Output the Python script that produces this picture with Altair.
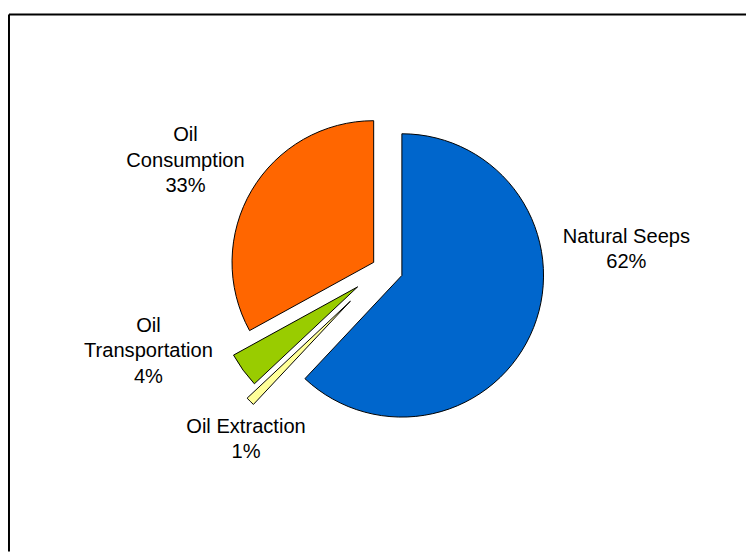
import math
import altair as alt
import pandas as pd

# ---- data ----
categories = ["Natural Seeps", "Oil Extraction", "Oil Transportation", "Oil Consumption"]
values = [62, 1, 4, 33]
label_lines = ["Natural Seeps", "Oil Extraction", "Oil\nTransportation", "Oil\nConsumption"]

# ---- styles / layout ----
colors = ["#0066CC", "#FFFF99", "#99CC00", "#FF6600"]
explode = [0.14, 0.33, 0.225, 0.08]          # slice pull-out, in pie radii
label_angle = [85.6, 218.75, 250.5, 298.5]   # label direction, degrees clockwise from 12 o'clock
label_dist = [1.72, 1.55, 1.76, 1.59]        # label distance, in pie radii

W, H = 744, 542
R = 143
CX, CY = 378, 256
LINE_H = 25.5

df = pd.DataFrame({
    "idx": list(range(len(categories))),
    "category": categories,
    "value": values,
    "lines": label_lines,
    "explode": explode,
    "langle": label_angle,
    "ldist": label_dist,
})

xscale = alt.Scale(domain=[-1, 1], range=[CX - R, CX + R])
yscale = alt.Scale(domain=[-1, 1], range=[CY + R, CY - R])

base = alt.Chart(df).transform_window(
    cum="sum(value)", sort=[alt.SortField("idx")], frame=[None, 0]
).transform_calculate(
    start="datum.cum - datum.value",
    mid="(datum.cum - datum.value/2) / 100 * 2 * PI",
    label="datum.lines + '\\n' + datum.value + '%'",
).transform_calculate(
    nlines="length(split(datum.label, '\\n'))",
    ox="datum.explode * sin(datum.mid)",
    oy="datum.explode * cos(datum.mid)",
    lx="datum.ldist * sin(datum.langle * PI / 180)",
).transform_calculate(
    ly=f"datum.ldist * cos(datum.langle * PI / 180) + (datum.nlines - 1) / 2 * {LINE_H} / {R}",
)

arcs = base.mark_arc(radius=R, stroke="black", strokeWidth=1).encode(
    x=alt.X("ox:Q", scale=xscale, axis=None),
    y=alt.Y("oy:Q", scale=yscale, axis=None),
    theta=alt.Theta("start:Q", scale=alt.Scale(domain=[0, 100], range=[0, 2 * math.pi]), stack=False),
    theta2="cum:Q",
    color=alt.Color("category:N", scale=alt.Scale(domain=categories, range=colors), legend=None),
)

labels = base.mark_text(
    font="Liberation Sans, Arial, sans-serif",
    fontSize=20.3,
    lineBreak="\n",
    lineHeight=LINE_H,
    align="center",
    baseline="middle",
    color="black",
).encode(
    x=alt.X("lx:Q", scale=xscale, axis=None),
    y=alt.Y("ly:Q", scale=yscale, axis=None),
    text="label:N",
)

frame_df = pd.DataFrame({"k": [0]})
left_rule = alt.Chart(frame_df).mark_rule(color="black", strokeWidth=2).encode(
    x=alt.value(0), y=alt.value(0), y2=alt.value(H)
)
top_rule = alt.Chart(frame_df).mark_rule(color="black", strokeWidth=2).encode(
    x=alt.value(0), x2=alt.value(W), y=alt.value(0)
)

chart = alt.layer(arcs, labels, left_rule, top_rule).properties(
    width=W,
    height=H,
    autosize=alt.AutoSizeParams(type="none"),
    padding={"left": 1, "top": 4, "right": 0, "bottom": 0},
    background="white",
).configure_view(strokeWidth=0)

chart.save("out.html", embed_options={"renderer": "svg", "actions": False})
